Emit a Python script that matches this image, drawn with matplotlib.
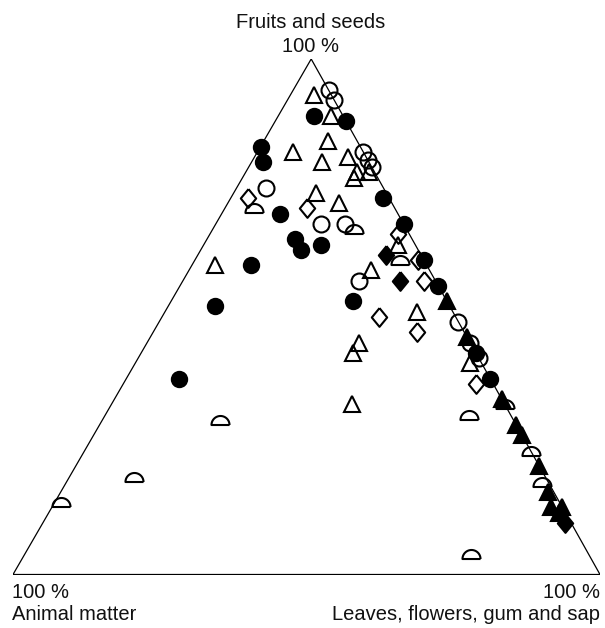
import numpy as np
import matplotlib
matplotlib.use("Agg")
import matplotlib.pyplot as plt
from matplotlib.path import Path

# percentages: (fruits and seeds, leaves/flowers/gum/sap, animal matter)
open_circles = [(94, 6, 0), (92, 8, 0), (82, 18, 0), (80.5, 19.5, 0), (79, 21, 0),
                (75, 5, 20), (68, 18, 14), (68, 22, 10), (57, 30, 13),
                (49, 51, 0), (45, 55, 0), (42, 58, 0)]
filled_circles = [(89, 6, 5), (88, 12, 0), (83, 0, 17), (80, 2, 18), (70, 10, 20),
                  (73, 26, 1), (68, 32, 0), (65, 15, 20), (63, 17, 20), (64, 20, 16),
                  (61, 39, 0), (56, 44, 0), (60, 10, 30), (52, 8, 40), (53, 31, 16),
                  (43, 57, 0), (38, 62, 0), (38, 9, 53)]
open_triangles = [(93, 4, 3), (89, 9, 2), (82, 6, 12), (84, 11, 5), (81, 16, 3),
                  (80, 12, 8), (78, 19, 3), (77, 19, 4), (78, 21, 1), (74, 14, 12),
                  (72, 19, 9), (60, 4, 36), (59, 31, 10), (51, 43, 6), (45, 36, 19),
                  (43, 36, 21), (33, 41, 26), (41, 57, 2), (64, 33, 3)]
filled_triangles = [(53, 47, 0), (46, 54, 0), (34, 66, 0), (29, 71, 0), (27, 73, 0),
                    (21, 79, 0), (16, 83, 1), (13, 85, 2), (13, 87, 0), (12, 87, 1)]
open_diamonds = [(73, 3, 24), (71, 14, 15), (66, 32, 2), (61, 38, 1), (57, 41, 2),
                 (50, 37, 13), (47, 45, 8), (37, 60, 3)]
filled_diamonds = [(62, 32, 6), (57, 37, 6), (10, 89, 1)]
half_circles = [(71, 5, 24), (67, 24, 9), (61, 35, 4), (33, 67, 0), (31, 62, 7),
                (24, 76, 0), (18, 81, 1), (30, 20, 50), (19, 11, 70), (14, 1, 85),
                (4, 76, 20)]

APEX_X = 0.508  # the printed triangle leans a little


def tern(pts):
    a = np.array(pts, dtype=float) / 100.0
    f = a[:, 0]
    l = a[:, 1]
    return l + f * APEX_X, f


# custom marker shapes
t = np.linspace(0, np.pi, 30)
half = Path(np.column_stack([np.cos(t), np.sin(t) - 0.5]).tolist() + [[-1, -0.5], [1, -0.5]])
diamond = Path([(0, 1), (0.82, 0), (0, -1), (-0.82, 0), (0, 1)])

fig = plt.figure(figsize=(6.05, 6.28), dpi=100)
ax = fig.add_axes([13 / 605, 53.5 / 628, 587 / 605, 515.5 / 628])
ax.set_xlim(0, 1)
ax.set_ylim(0, 1)
ax.axis("off")

cx, cy = tern([(0, 0, 100), (0, 100, 0), (100, 0, 0), (0, 0, 100)])
ax.plot(cx, cy, color="black", lw=0.9, zorder=1)

styles = [
    (open_circles, "o", 11.5, "none"),
    (open_triangles, "^", 11, "none"),
    (open_diamonds, diamond, 13.5, "none"),
    (half_circles, half, 13, "none"),
    (filled_circles, "o", 11, "black"),
    (filled_triangles, "^", 11, "black"),
    (filled_diamonds, diamond, 13.5, "black"),
]
for pts, m, ms, fc in styles:
    x, y = tern(pts)
    ax.plot(x, y, ls="none", marker=m, ms=ms, mfc=fc, mec="black",
            mew=1.5, clip_on=False, zorder=2)

font = dict(family="Liberation Sans", size=14.5, color="#111111")
fig.text(311 / 605, 600 / 628, "Fruits and seeds", ha="center", va="baseline", **font)
fig.text(311 / 605, 576 / 628, "100 %", ha="center", va="baseline", **font)
fig.text(12 / 605, 30 / 628, "100 %", ha="left", va="baseline", **font)
fig.text(12 / 605, 8 / 628, "Animal matter", ha="left", va="baseline", **font)
fig.text(600 / 605, 30 / 628, "100 %", ha="right", va="baseline", **font)
fig.text(600 / 605, 8 / 628, "Leaves, flowers, gum and sap", ha="right", va="baseline", **font)

fig.savefig("out.png", dpi=100)
